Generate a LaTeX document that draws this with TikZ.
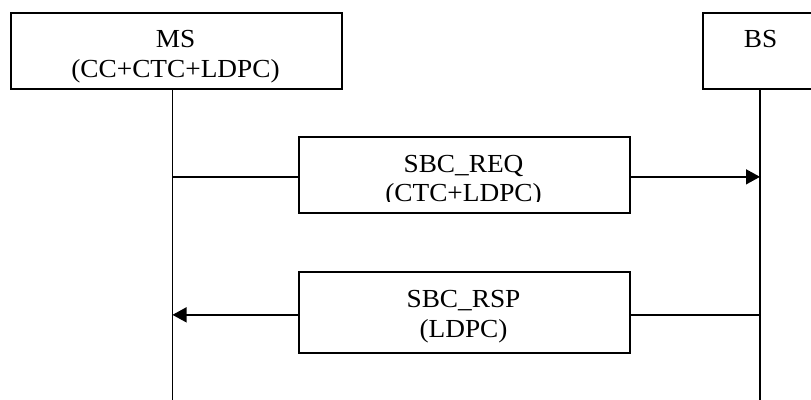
\documentclass[tikz,border=0pt]{standalone}
\usepackage{fontspec}
\setmainfont[FakeStretch=1.05]{Liberation Serif}
\usetikzlibrary{arrows.meta}
\begin{document}
\begin{tikzpicture}[x=1pt,y=-1pt,
  box/.style={draw=black, line width=1.7pt, rectangle, inner sep=0pt, anchor=north west},
  lbl/.style={font=\fontsize{26}{30}\selectfont, inner sep=0pt, anchor=base},
  life/.style={draw=black, line width=1.3pt},
  msg/.style={draw=black, line width=1.3pt},
  tip/.style={-{Triangle[length=14pt,width=15pt]}}]
\useasboundingbox (0,0) rectangle (811,399);
% boxes
\node[box, minimum width=331pt, minimum height=76pt] (ms) at (10,12) {};
\node[box, minimum width=117pt, minimum height=76pt] (bs) at (702,12) {};
\node[box, minimum width=331pt, minimum height=76pt] (req) at (298,136) {};
\node[box, minimum width=331pt, minimum height=81pt] (rsp) at (298,271) {};
% labels
\node[lbl] (msname) at (175.5,47) {MS};
\node[lbl] (mscode) at (175.5,77) {(CC+CTC+LDPC)};
\node[lbl] (bsname) at (760.5,47) {BS};
\node[lbl] (reqname) at (463.5,172) {SBC\_REQ};
\begin{scope}
  \clip (298,136) rectangle (629,201.5);
  \node[lbl] (reqcode) at (463.5,201.5) {(CTC+LDPC)};
\end{scope}
\node[lbl] (rspname) at (463.5,307) {SBC\_RSP};
\node[lbl] (rspcode) at (463.5,337) {(LDPC)};
% lifelines
\coordinate (mstop) at (172.5,88);
\coordinate (msbot) at (172.5,400);
\coordinate (bstop) at (760,88);
\coordinate (bsbot) at (760,400);
\draw[life] (mstop) -- (msbot);
\draw[life] (bstop) -- (bsbot);
% messages
\draw[msg] ([yshift=-2pt]req.west) -- ([yshift=-2pt]req.west -| mstop);
\draw[msg,tip] ([yshift=-2pt]req.east) -- ([yshift=-2pt]req.east -| bstop);
\draw[msg] ([yshift=-2.5pt]rsp.east) -- ([yshift=-2.5pt]rsp.east -| bstop);
\draw[msg,tip] ([yshift=-2.5pt]rsp.west) -- ([yshift=-2.5pt]rsp.west -| mstop);
\end{tikzpicture}
\end{document}
